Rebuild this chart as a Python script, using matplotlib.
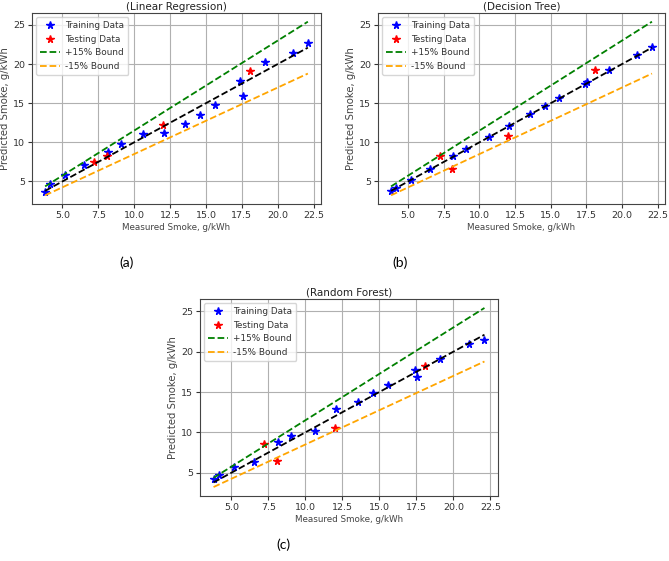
# Measured vs predicted smoke for three models, with +/-15% bounds
import numpy as np
import matplotlib.pyplot as plt

# measured smoke (g/kWh), shared by all three models
train_x = [3.8, 4.15, 5.2, 6.5, 8.15, 9.05, 10.65, 12.05, 13.55, 14.6, 15.6, 17.4, 17.55, 19.1, 21.05, 22.1]
test_x = [7.2, 8.1, 12.0, 18.1]

# predicted smoke, linear regression
lr_train = [3.6, 4.7, 5.85, 7.05, 8.75, 9.85, 11.05, 11.15, 12.4, 13.55, 14.75, 17.85, 15.95, 20.3, 21.45, 22.65]
lr_test = [7.5, 8.3, 12.2, 19.05]

# predicted smoke, decision tree
dt_train = [3.8, 4.15, 5.2, 6.55, 8.2, 9.1, 10.7, 12.05, 13.6, 14.65, 15.65, 17.5, 17.65, 19.2, 21.1, 22.15]
dt_test = [8.25, 6.6, 10.75, 19.2]

# predicted smoke, random forest
rf_train = [4.2, 4.7, 5.75, 6.3, 8.8, 9.6, 10.2, 12.9, 13.8, 14.85, 15.9, 17.7, 16.85, 19.1, 21.0, 21.5]
rf_test = [8.6, 6.45, 10.6, 18.25]

titles = ["(Linear Regression)", "(Decision Tree)", "(Random Forest)"]
panel_labels = ["(a)", "(b)", "(c)"]

plt.rcParams["font.family"] = "DejaVu Sans"
fig = plt.figure(figsize=(6.69, 5.61), dpi=100)

W, H = 669.0, 561.0
# axes boxes in pixels: left, top, right, bottom
boxes = [(32, 13, 321, 204), (378, 13, 665, 204), (200, 299, 498, 496)]
label_pos = [(127, 263), (400, 263), (283, 545)]

line_x = np.linspace(min(train_x), max(train_x), 50)

for box, title, lab, lpos, tr, te in zip(boxes, titles, panel_labels, label_pos,
                                         [lr_train, dt_train, rf_train],
                                         [lr_test, dt_test, rf_test]):
    l, t, r, b = box
    ax = fig.add_axes([l / W, 1 - b / H, (r - l) / W, (b - t) / H])
    ax.plot(train_x, tr, "b*", markersize=5.5, linestyle="none", label="Training Data")
    ax.plot(test_x, te, "r*", markersize=5.5, linestyle="none", label="Testing Data")
    ax.plot(line_x, line_x, "k--", linewidth=1.3)
    ax.plot(line_x, 1.15 * line_x, "--", color="green", linewidth=1.3, label="+15% Bound")
    ax.plot(line_x, 0.85 * line_x, "--", color="orange", linewidth=1.3, label="-15% Bound")
    ax.set_xticks([5.0, 7.5, 10.0, 12.5, 15.0, 17.5, 20.0, 22.5])
    ax.set_yticks([5, 10, 15, 20, 25])
    ax.tick_params(labelsize=6.8, length=3, pad=2, colors="#333333")
    ax.set_xlabel("Measured Smoke, g/kWh", fontsize=6.3, labelpad=2, color="#444444")
    ax.set_ylabel("Predicted Smoke, g/kWh", fontsize=7.3, labelpad=2, color="#444444")
    ax.set_title(title, fontsize=7.5, pad=2.5, color="#222222")
    ax.grid(True, color="#b0b0b0", linewidth=0.8)
    for s in ax.spines.values():
        s.set_color("#444444")
    ax.legend(loc="upper left", fontsize=6.4, handlelength=2.2, borderpad=0.45,
              labelspacing=0.5, handletextpad=0.6, framealpha=0.8,
              labelcolor="#333333")
    fig.text(lpos[0] / W, 1 - lpos[1] / H, lab, family="Lato", fontsize=10,
             ha="center", va="center")

fig.savefig("out.png", dpi=100)
